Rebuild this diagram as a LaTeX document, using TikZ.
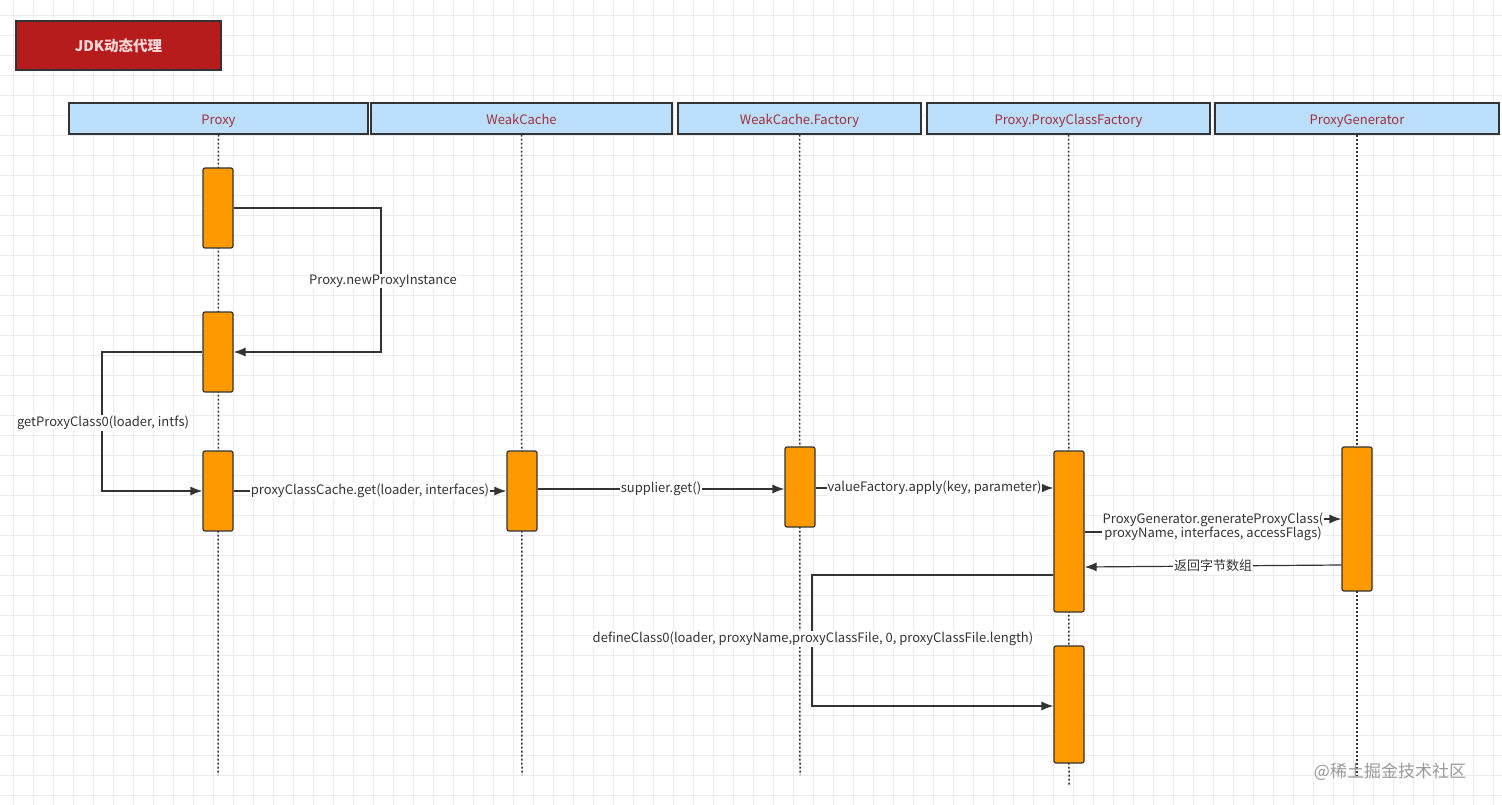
\documentclass[tikz,border=0pt]{standalone}
\usepackage{fontspec}
\setmainfont{Noto Sans CJK SC}
\usetikzlibrary{arrows.meta}
\definecolor{hdr}{HTML}{BBDEFB}
\definecolor{hdrtxt}{HTML}{A0303A}
\definecolor{act}{HTML}{FF9900}
\definecolor{ttl}{HTML}{B71C1C}
\definecolor{ln}{HTML}{333333}
\begin{document}
\begin{tikzpicture}[x=1pt,y=-1pt,
  hd/.style={draw=ln,line width=1.2pt,fill=hdr,text=hdrtxt,font=\fontsize{13}{15}\selectfont,text height=12pt,text depth=0pt},
  ac/.style={draw=ln,line width=1.2pt,fill=act,rounded corners=2pt},
  life/.style={ln,line width=1.5pt,dash pattern=on 2pt off 2pt},
  msg/.style={ln,line width=1.2pt,-{Latex[length=12pt,width=9pt]}},
  lb/.style={fill=white,inner sep=1pt,font=\fontsize{13}{14.5}\selectfont,text=ln,align=center}]
\useasboundingbox (0,0) rectangle (1502,805);
\fill[white] (0,0) rectangle (1502,805);
\foreach \i in {0,...,75} \draw[black!8,line width=0.6pt] (13+20*\i,0) -- (13+20*\i,805);
\foreach \i in {0,...,40} \draw[black!8,line width=0.6pt] (0,15+20*\i) -- (1502,15+20*\i);
\node[draw=ln,line width=1.2pt,fill=ttl,text=red!15,font=\fontsize{14.5}{16}\selectfont\bfseries] (title) at (118.5,45.5) [minimum width=205pt,minimum height=49pt,inner sep=0] {JDK动态代理};
% headers
\node[hd,minimum width=299pt,minimum height=31pt,inner sep=0] (h1) at (218.5,118.5) {Proxy};
\node[hd,minimum width=301pt,minimum height=31pt,inner sep=0] (h2) at (521.5,118.5) {WeakCache};
\node[hd,minimum width=243pt,minimum height=31pt,inner sep=0] (h3) at (799.5,118.5) {WeakCache.Factory};
\node[hd,minimum width=283pt,minimum height=31pt,inner sep=0] (h4) at (1068.5,118.5) {Proxy.ProxyClassFactory};
\node[hd,minimum width=284pt,minimum height=31pt,inner sep=0] (h5) at (1357,118.5) {ProxyGenerator};
\coordinate (e1) at (218,775); \coordinate (e2) at (522,775); \coordinate (e3) at (800,775);
\coordinate (e4) at (1069,785); \coordinate (e5) at (1357,775);
\draw[life] (h1.south) -- (e1); \draw[life] (h2.south) -- (e2); \draw[life] (h3.south) -- (e3);
\draw[life] (h4.south) -- (e4); \draw[life] (h5.south) -- (e5);
% activations
\node[ac,minimum width=30pt,minimum height=80pt,inner sep=0] (p1) at (218,208) {};
\node[ac,minimum width=30pt,minimum height=80pt,inner sep=0] (p2) at (218,352) {};
\node[ac,minimum width=30pt,minimum height=80pt,inner sep=0] (p3) at (218,491) {};
\node[ac,minimum width=30pt,minimum height=80pt,inner sep=0] (w1) at (522,491) {};
\node[ac,minimum width=30pt,minimum height=80pt,inner sep=0] (f1) at (800,487) {};
\node[ac,minimum width=30pt,minimum height=161pt,inner sep=0] (c1) at (1069,531.5) {};
\node[ac,minimum width=30pt,minimum height=117pt,inner sep=0] (c2) at (1069,704.5) {};
\node[ac,minimum width=30pt,minimum height=144pt,inner sep=0] (g1) at (1357,519) {};
% messages
\draw[msg] (p1.east) -- (381,208) -- (381,352) -- (p2.east);
\node[lb] at (383,281) {Proxy.newProxyInstance};
\draw[msg] (p2.west) -- (102,352) -- (102,491) -- (p3.west);
\node[lb] at (103,423) {getProxyClass0(loader, intfs)};
\draw[msg] (p3.east) -- (w1.west) node[lb,midway] {proxyClassCache.get(loader, interfaces)};
\draw[msg] (w1.east |- 0,489) -- (f1.west |- 0,489) node[lb,midway] {supplier.get()};
\draw[msg] (f1.east |- 0,488) -- (c1.west |- 0,488) node[lb,midway] {valueFactory.apply(key, parameter)};
\draw[ln,line width=1.2pt] (c1.east |- 0,532) -- (1213,532);
\draw[msg] (1320,519) -- (g1.west |- 0,519);
\node[lb] at (1213,527) {ProxyGenerator.generateProxyClass(\\proxyName, interfaces, accessFlags)};
\draw[msg] (g1.west |- 0,565) -- (c1.east |- 0,567) node[lb,midway] {返回字节数组};
\draw[msg] (c1.west |- 0,575) -- (812,575) -- (812,706) -- (c2.west |- 0,706);
\node[lb] at (813,639) {defineClass0(loader, proxyName,proxyClassFile, 0, proxyClassFile.length)};
\node[text=black!40,font=\fontsize{17}{19}\selectfont] (wm) at (1390,772) {@稀土掘金技术社区};
\end{tikzpicture}
\end{document}
